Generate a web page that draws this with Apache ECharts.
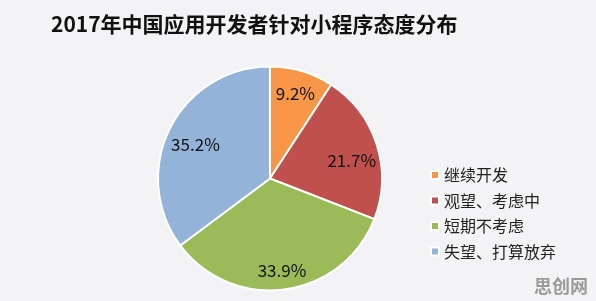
<!DOCTYPE html>
<html><head><meta charset="utf-8">
<script src="https://cdn.jsdelivr.net/npm/echarts@6/dist/echarts.min.js"></script>
<style>html,body{margin:0;padding:0;background:#f3f3f5;}#c{width:596px;height:301px;}</style>
</head><body><div id="c"></div>
<script>
var categories = ['继续开发', '观望、考虑中', '短期不考虑', '失望、打算放弃'];
var values = [9.2, 21.7, 33.9, 35.2];
var colors = ['#F79646', '#C0504D', '#9BBB59', '#93B3D8'];
var titleText = '2017年中国应用开发者针对小程序态度分布';

var data = categories.map(function (c, i) { return { name: c, value: values[i] }; });
var chart = echarts.init(document.getElementById('c'), null, { renderer: 'canvas' });
chart.setOption({
  backgroundColor: '#f3f3f5',
  color: colors,
  animation: false,
  title: {
    text: titleText, left: 46, top: 9,
    textStyle: { fontFamily: 'Noto Sans CJK SC', fontWeight: 'bold', fontSize: 21, color: '#111' }
  },
  legend: {
    orient: 'vertical', left: 425, top: 162,
    itemWidth: 8, itemHeight: 8, itemGap: 9.5, icon: 'rect',
    textStyle: { fontFamily: 'Noto Sans CJK SC', fontSize: 16, color: '#222', lineHeight: 16, padding: [0, 0, 0, 0] },
    data: categories
  },
  graphic: [{
    type: 'text', right: 8, bottom: 6,
    style: { text: '思创网', fontFamily: 'Noto Sans CJK SC', fontWeight: 'bold', fontSize: 18, fill: '#9a9a9a' }
  }],
  series: [{
    type: 'pie', center: [270, 178.5], radius: [0, 112], startAngle: 90, clockwise: true,
    itemStyle: { borderColor: '#fff', borderWidth: 2 },
    label: { show: false }, labelLine: { show: false },
    data: data
  }, {
    type: 'pie', center: [270, 178.5], radius: [0, 172], startAngle: 90, clockwise: true,
    silent: true, legendHoverLink: false,
    itemStyle: { color: 'rgba(0,0,0,0)', borderWidth: 0 },
    label: {
      show: true, position: 'inside', formatter: function (p) { return p.value.toFixed(1) + '%'; },
      fontFamily: 'Noto Sans CJK SC', fontSize: 17, color: '#111'
    },
    labelLayout: function (p) { return { dx: [0, -3, 0, 5][p.dataIndex], dy: [0, 9, 4, 6][p.dataIndex] }; },
    labelLine: { show: false },
    data: data
  }]
});
</script></body></html>
